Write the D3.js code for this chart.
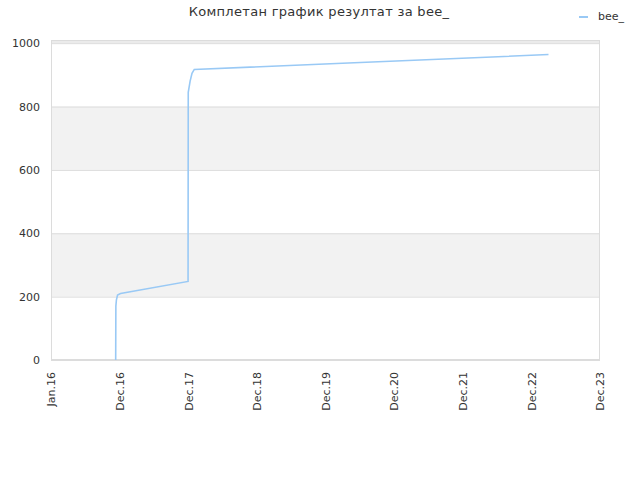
<!DOCTYPE html>
<html>
<head>
<meta charset="utf-8">
<script src="https://cdn.jsdelivr.net/npm/d3@7"></script>
<style>
  body { margin: 0; background: #fff; }
  text { font-family: "DejaVu Sans", sans-serif; fill: #333; }
</style>
</head>
<body>
<svg id="chart" width="640" height="480"></svg>
<script>
// data
const dates = ["2016-12-10", "2016-12-11", "2016-12-14", "2016-12-20", "2017-01-05",
  "2017-12-30", "2017-12-31", "2018-01-10", "2018-01-20", "2018-02-01",
  "2020-06-01", "2023-03-31"];
const values = [0, 170, 190, 205, 210, 248, 845, 880, 905, 917, 938, 964];
const tickDates = ["2016-01-01", "2016-12-31", "2017-12-31", "2018-12-31", "2019-12-31",
  "2020-12-30", "2021-12-30", "2022-12-30", "2023-12-30"];
const yTicks = [0, 200, 400, 600, 800, 1000];
const seriesName = "bee_";
const title = "Комплетан график резултат за bee_";

const parse = d3.timeParse("%Y-%m-%d");
const data = dates.map((d, i) => ({ date: parse(d), value: values[i] }));
const xTicks = tickDates.map(parse);

const margin = { top: 40, left: 51, bottom: 120, right: 40 };
const width = 640, height = 480;
const svg = d3.select("#chart");

const x = d3.scaleTime()
  .domain([xTicks[0], xTicks[xTicks.length - 1]])
  .range([margin.left, width - margin.right]);
const y = d3.scaleLinear()
  .domain([0, 1010])
  .range([height - margin.bottom, margin.top]);

// alternating bands
const bands = [[200, 400], [600, 800], [1000, 1010]];
svg.append("g").selectAll("rect").data(bands).join("rect")
  .attr("x", margin.left)
  .attr("width", width - margin.right - margin.left)
  .attr("y", d => y(d[1]))
  .attr("height", d => y(d[0]) - y(d[1]))
  .attr("fill", (d, i) => i === 2 ? "#ebebeb" : "#f2f2f2");

// grid + y labels
const yAxis = g => g
  .attr("transform", `translate(${margin.left},0)`)
  .call(d3.axisLeft(y).tickValues(yTicks).tickFormat(d3.format("d"))
    .tickSize(-(width - margin.right - margin.left)).tickPadding(11))
  .call(g => g.select(".domain").remove())
  .call(g => g.selectAll("line").attr("stroke", "#dcdcdc"))
  .call(g => g.selectAll("text").attr("font-size", "11px").attr("font-family", "DejaVu Sans"));
svg.append("g").call(yAxis);

// frame
svg.append("rect")
  .attr("x", margin.left + 0.5).attr("y", margin.top + 0.5)
  .attr("width", width - margin.right - margin.left - 1)
  .attr("height", height - margin.bottom - margin.top - 1)
  .attr("fill", "none").attr("stroke", "#dcdcdc");

// x labels, rotated
const xAxis = g => g
  .attr("transform", `translate(0,${height - margin.bottom})`)
  .call(d3.axisBottom(x).tickValues(xTicks).tickFormat(d3.timeFormat("%b.%y")).tickSize(0).tickPadding(0))
  .call(g => g.select(".domain").remove())
  .call(g => g.selectAll("text")
    .attr("font-size", "11px").attr("font-family", "DejaVu Sans")
    .attr("transform", "rotate(-90)")
    .attr("text-anchor", "end")
    .attr("x", -12).attr("y", 0).attr("dy", "0.35em"));
svg.append("g").call(xAxis);

const line = d3.line()
  .x(d => x(d.date))
  .y(d => y(d.value));

svg.append("path")
  .datum(data)
  .attr("fill", "none")
  .attr("stroke", "#99c9f5")
  .attr("stroke-width", 1.6)
  .attr("d", line);

// title
svg.append("text")
  .attr("x", 319).attr("y", 16)
  .attr("text-anchor", "middle")
  .attr("font-size", "13px")
  .attr("letter-spacing", "0.3px")
  .attr("fill", "#555")
  .text(title);

// legend
svg.append("line")
  .attr("x1", 579).attr("x2", 588).attr("y1", 17).attr("y2", 17)
  .attr("stroke", "#99c9f5").attr("stroke-width", 2);
svg.append("text")
  .attr("x", 598).attr("y", 20)
  .attr("font-size", "11px")
  .attr("fill", "#222")
  .text(seriesName);
</script>
</body>
</html>
